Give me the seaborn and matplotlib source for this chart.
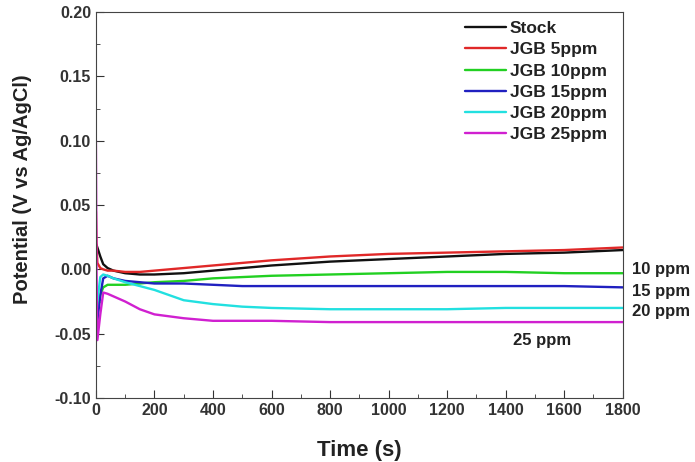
import numpy as np
import pandas as pd
import matplotlib
matplotlib.use("Agg")
import matplotlib.pyplot as plt
import seaborn as sns
from matplotlib.ticker import MultipleLocator

# Data (open circuit potential vs time)
time_s = [0, 2, 5, 15, 25, 40, 60, 100, 150, 200, 300, 400, 500, 600,
          800, 1000, 1200, 1400, 1600, 1800]
stock = [0.020, 0.019, 0.017, 0.010, 0.004, 0.001, -0.001, -0.003, -0.004, -0.004,
         -0.003, -0.001, 0.001, 0.003, 0.006, 0.008, 0.010, 0.012, 0.013, 0.015]
jgb5 = [0.045, 0.020, 0.005, 0.001, 0.000, -0.001, -0.001, -0.002, -0.002, -0.001,
        0.001, 0.003, 0.005, 0.007, 0.010, 0.012, 0.013, 0.014, 0.015, 0.017]
jgb10 = [-0.045, -0.042, -0.035, -0.020, -0.014, -0.012, -0.012, -0.012, -0.011, -0.010,
         -0.009, -0.007, -0.006, -0.005, -0.004, -0.003, -0.002, -0.002, -0.003, -0.003]
jgb15 = [-0.050, -0.046, -0.040, -0.020, -0.007, -0.005, -0.007, -0.009, -0.010, -0.011,
         -0.011, -0.012, -0.013, -0.013, -0.013, -0.013, -0.013, -0.013, -0.013, -0.014]
jgb20 = [-0.040, -0.034, -0.025, -0.006, -0.004, -0.005, -0.007, -0.010, -0.013, -0.016,
         -0.024, -0.027, -0.029, -0.030, -0.031, -0.031, -0.031, -0.030, -0.030, -0.030]
jgb25 = [0.100, 0.000, -0.055, -0.035, -0.018, -0.019, -0.021, -0.025, -0.031, -0.035,
         -0.038, -0.040, -0.040, -0.040, -0.041, -0.041, -0.041, -0.041, -0.041, -0.041]

labels = ["Stock", "JGB 5ppm", "JGB 10ppm", "JGB 15ppm", "JGB 20ppm", "JGB 25ppm"]
colors = ["#111111", "#e02828", "#22d022", "#2020c0", "#22e0e0", "#d020d0"]
series = [stock, jgb5, jgb10, jgb15, jgb20, jgb25]

rows = []
for lab, vals in zip(labels, series):
    for t, v in zip(time_s, vals):
        rows.append({"Time": t, "Potential": v, "Sample": lab})
df = pd.DataFrame(rows)

sns.set_style("ticks")
plt.rcParams["font.family"] = ["Liberation Sans", "DejaVu Sans"]
plt.rcParams["font.weight"] = "bold"

fig = plt.figure(figsize=(6.95, 4.62), dpi=100)
ax = fig.add_axes([0.138, 0.1385, 0.758, 0.8355])

sns.lineplot(data=df, x="Time", y="Potential", hue="Sample", hue_order=labels,
             palette=colors, linewidth=1.7, ax=ax, sort=False)

ax.set_xlim(0, 1800)
ax.set_ylim(-0.10, 0.20)
ax.xaxis.set_major_locator(MultipleLocator(200))
ax.xaxis.set_minor_locator(MultipleLocator(100))
ax.yaxis.set_major_locator(MultipleLocator(0.05))
ax.yaxis.set_minor_locator(MultipleLocator(0.025))
ax.yaxis.set_major_formatter(matplotlib.ticker.FormatStrFormatter("%.2f"))
ax.tick_params(which="both", direction="in", labelsize=11.5, colors="#333333")
ax.tick_params(which="major", length=6)
ax.tick_params(which="minor", length=3)
for lbl in ax.get_xticklabels() + ax.get_yticklabels():
    lbl.set_fontweight("bold")
for sp in ax.spines.values():
    sp.set_linewidth(0.8)
    sp.set_color("#444444")

ax.set_xlabel("Time (s)", fontsize=16, fontweight="bold", labelpad=16, color="#222222")
ax.set_ylabel("Potential (V vs Ag/AgCl)", fontsize=14.5, fontweight="bold", color="#222222")
ax.yaxis.set_label_coords(-0.121, 0.54)

leg = ax.legend(loc="upper left", bbox_to_anchor=(0.69, 0.99), fontsize=12.5,
                frameon=False, handlelength=2.4, labelspacing=0.35,
                handletextpad=0.2, borderaxespad=0.0, borderpad=0.3)
for txt in leg.get_texts():
    txt.set_fontweight("bold")
    txt.set_color("#222222")

# concentration labels
lab_kw = dict(transform=ax.transAxes, fontsize=12, fontweight="bold", va="center", color="#222222")
ax.text(1.017, 0.332, "10 ppm", **lab_kw)
ax.text(1.017, 0.275, "15 ppm", **lab_kw)
ax.text(1.017, 0.223, "20 ppm", **lab_kw)
ax.text(0.791, 0.150, "25 ppm", **lab_kw)

fig.savefig("out.png", dpi=100)
